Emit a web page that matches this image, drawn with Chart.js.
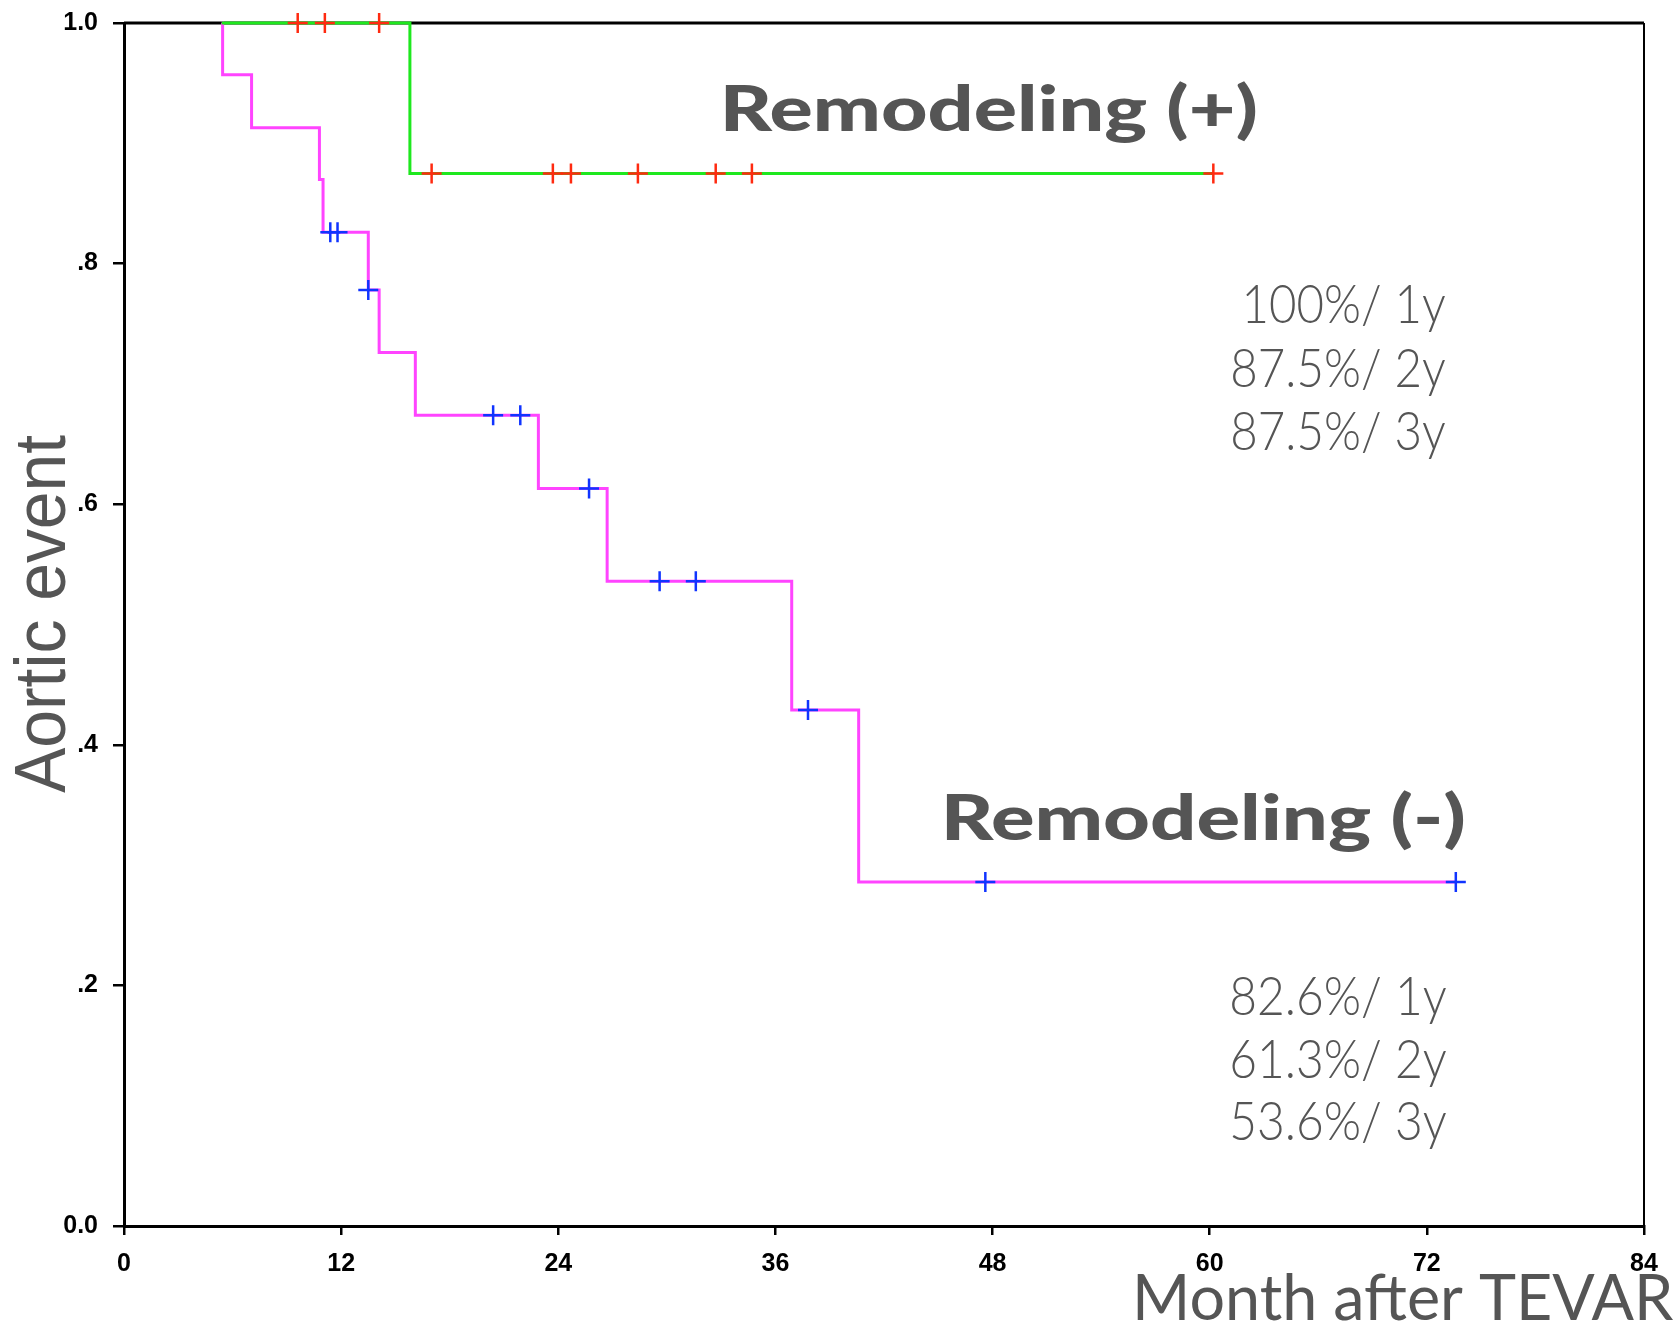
<!DOCTYPE html>
<html>
<head>
<meta charset="utf-8">
<title>Aortic event after TEVAR</title>
<script src="https://cdn.jsdelivr.net/npm/chart.js@4.4.1/dist/chart.umd.min.js"></script>
<style>
  html, body { margin: 0; padding: 0; background: #fff; }
  canvas { display: block; }
</style>
</head>
<body>
<canvas id="km" width="1680" height="1323"></canvas>
<script>
// Remodeling (+): Kaplan-Meier steps (months, survival) and censored cases
const posTimes = [5.4, 15.8, 60.2];
const posSurv = [1.0, 0.875, 0.875];
const posCensorTimes = [9.6, 11.1, 14.1, 17.0, 23.7, 24.7, 28.4, 32.7, 34.7, 60.2];
const posCensorSurv = [1.0, 1.0, 1.0, 0.875, 0.875, 0.875, 0.875, 0.875, 0.875, 0.875];

// Remodeling (-)
const negTimes = [5.4, 5.45, 7.05, 10.8, 11.0, 13.5, 14.1, 16.1, 22.9, 26.7, 36.9, 40.6, 73.6];
const negSurv = [1.0, 0.957, 0.913, 0.870, 0.826, 0.778, 0.726, 0.674, 0.613, 0.536, 0.429, 0.286, 0.286];
const negCensorTimes = [11.4, 11.8, 13.5, 20.4, 21.9, 25.7, 29.6, 31.6, 37.8, 47.6, 73.6];
const negCensorSurv = [0.826, 0.826, 0.778, 0.674, 0.674, 0.613, 0.536, 0.536, 0.429, 0.286, 0.286];

const xTicks = [0, 12, 24, 36, 48, 60, 72, 84];
const yTicks = [0, 0.2, 0.4, 0.6, 0.8, 1.0];
const yTickLabels = ['0.0', '.2', '.4', '.6', '.8', '1.0'];

const posRates = ['100%/ 1y', '87.5%/ 2y', '87.5%/ 3y'];
const negRates = ['82.6%/ 1y', '61.3%/ 2y', '53.6%/ 3y'];

const pts = (xs, ys) => xs.map((x, i) => ({ x: x, y: ys[i] }));

// draws lines of text sized by cap height, squeezed to a given ink width
function drawText(ctx, lines, o) {
    ctx.save();
    ctx.fillStyle = o.color || '#555';
    ctx.textAlign = 'left';
    ctx.textBaseline = 'alphabetic';
    ctx.font = `${o.weight} 100px ${o.family}`;
    const cap = ctx.measureText(o.ref || 'H').actualBoundingBoxAscent;
    const size = 100 * o.cap / cap;
    ctx.font = `${o.weight} ${size}px ${o.family}`;
    const ink = t => {
        const m = ctx.measureText(t);
        return { l: m.actualBoundingBoxLeft, r: m.actualBoundingBoxRight };
    };
    const widest = Math.max(...lines.map(t => { const m = ink(t); return m.l + m.r; }));
    const sx = o.width / widest;
    lines.forEach((t, i) => {
        const m = ink(t);
        ctx.save();
        if (o.rotate) {
            ctx.translate(o.base[i], o.center);
            ctx.rotate(-Math.PI / 2);
            ctx.scale(sx, 1);
            ctx.fillText(t, -(m.r - m.l) / 2, 0);
        } else {
            let x0;
            if (o.right !== undefined) x0 = o.right - m.r * sx;
            else x0 = o.left + m.l * sx;
            ctx.translate(x0, o.base[i]);
            ctx.scale(sx, 1);
            ctx.fillText(t, 0, 0);
        }
        ctx.restore();
    });
    ctx.restore();
}

const frame = {
    id: 'frame',
    beforeDatasetsDraw(chart) {
        const { ctx, chartArea: a } = chart;
        ctx.save();
        ctx.strokeStyle = '#000';
        ctx.lineWidth = 3;
        ctx.beginPath();
        ctx.moveTo(a.left, a.top);
        ctx.lineTo(a.right, a.top);
        ctx.stroke();
        ctx.lineWidth = 2;
        ctx.beginPath();
        ctx.moveTo(a.right, a.top);
        ctx.lineTo(a.right, a.bottom);
        ctx.stroke();
        ctx.restore();
    }
};

const notes = {
    id: 'notes',
    afterDraw(chart) {
        const ctx = chart.ctx;
        drawText(ctx, ['Aortic event'], { family: '"Liberation Sans", Arial, sans-serif', weight: 400, cap: 50, width: 358, rotate: true, base: [65], center: 614 });
        drawText(ctx, ['Remodeling (+)'], { family: 'Lato, sans-serif', weight: 900, cap: 46, width: 531, left: 725, base: [131] });
        drawText(ctx, ['Remodeling (-)'], { family: 'Lato, sans-serif', weight: 900, cap: 46, width: 518, left: 946, base: [840] });
        drawText(ctx, posRates, { family: 'Lato, sans-serif', weight: 300, ref: '0', cap: 39, width: 212, right: 1445, base: [323, 387, 450] });
        drawText(ctx, negRates, { family: 'Lato, sans-serif', weight: 300, ref: '0', cap: 39, width: 214, right: 1446, base: [1015, 1078, 1140] });
        drawText(ctx, ['Month after TEVAR'], { family: 'Lato, sans-serif', weight: 400, cap: 47, width: 536, left: 1137, base: [1320] });
    }
};

const tickFont = { family: '"Liberation Sans Narrow", "Liberation Sans", sans-serif', size: 25, weight: 'bold' };

new Chart(document.getElementById('km'), {
    type: 'scatter',
    data: {
        datasets: [
            {
                label: 'Remodeling (+)',
                data: pts(posTimes, posSurv),
                showLine: true,
                stepped: 'before',
                borderColor: '#1ee81e',
                borderWidth: 3,
                pointRadius: 0,
                clip: false,
                order: 2
            },
            {
                label: 'Remodeling (-)',
                data: pts(negTimes, negSurv),
                showLine: true,
                stepped: 'before',
                borderColor: '#ff44ff',
                borderWidth: 3,
                pointRadius: 0,
                clip: false,
                order: 2
            },
            {
                label: 'Censored (+)',
                data: pts(posCensorTimes, posCensorSurv),
                pointStyle: 'cross',
                pointRadius: 10,
                pointBorderWidth: 2.5,
                pointBorderColor: '#ff2a10',
                clip: false,
                order: 1
            },
            {
                label: 'Censored (-)',
                data: pts(negCensorTimes, negCensorSurv),
                pointStyle: 'cross',
                pointRadius: 10,
                pointBorderWidth: 2.5,
                pointBorderColor: '#1034ff',
                clip: false,
                order: 1
            }
        ]
    },
    options: {
        responsive: false,
        animation: false,
        devicePixelRatio: 1,
        layout: { padding: { left: 0, right: 36, top: 23, bottom: 0 } },
        plugins: {
            legend: { display: false },
            tooltip: { enabled: false }
        },
        scales: {
            x: {
                type: 'linear',
                min: 0,
                max: 84,
                afterBuildTicks: s => { s.ticks = xTicks.map(v => ({ value: v })); },
                afterFit: s => { s.height = 97; },
                border: { display: true, color: '#000', width: 3 },
                grid: { display: true, drawOnChartArea: false, drawTicks: true, tickLength: 9, color: '#000', lineWidth: 2.5 },
                ticks: { autoSkip: false, maxRotation: 0, padding: 14, color: '#000', font: tickFont }
            },
            y: {
                type: 'linear',
                min: 0,
                max: 1,
                afterBuildTicks: s => { s.ticks = yTicks.map(v => ({ value: v })); },
                afterFit: s => { s.width = 124; s.paddingTop = 0; s.paddingBottom = 0; },
                border: { display: true, color: '#000', width: 3 },
                grid: { display: true, drawOnChartArea: false, drawTicks: true, tickLength: 11, color: '#000', lineWidth: 2.5 },
                ticks: {
                    autoSkip: false,
                    padding: 15,
                    color: '#000',
                    font: tickFont,
                    callback: (value, index) => yTickLabels[index]
                }
            }
        }
    },
    plugins: [frame, notes]
});
</script>
</body>
</html>
